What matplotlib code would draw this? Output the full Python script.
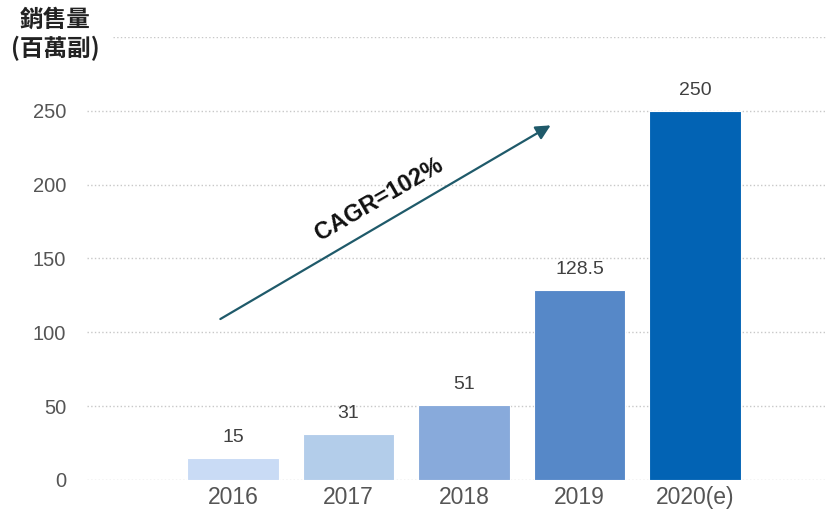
import matplotlib.pyplot as plt

# Datos
years = ['2016', '2017', '2018', '2019', '2020(e)']
sales = [15, 31, 51, 128.5, 250]
value_labels = ['15', '31', '51', '128.5', '250']
bar_colors = ['#c9dbf5', '#b3cdea', '#88aadb', '#5688c8', '#0263b4']

plt.rcParams['font.family'] = ['Liberation Sans', 'Noto Sans CJK TC', 'DejaVu Sans']

fig = plt.figure(figsize=(8.28, 5.16), dpi=100)
ax = fig.add_axes([0.105, 0.0698, 0.895, 0.8589])

x = list(range(len(years)))
ax.bar(x, sales, width=0.79, color=bar_colors, edgecolor='white', linewidth=0.8, zorder=3)

for xi, v, lab in zip(x, sales, value_labels):
    ax.text(xi, v + 8, lab, ha='center', va='bottom', fontsize=14, color='#404040')

ax.set_xlim(-1.264, 5.15)
ax.set_ylim(0, 300)
ax.set_yticks([0, 50, 100, 150, 200, 250])
ax.set_xticks(x)
ax.set_xticklabels(years)

# Lineas de cuadricula punteadas
for yv in [0, 50, 100, 150, 200, 250]:
    ax.axhline(yv, color='#c8c8c8', linestyle=':', linewidth=1, zorder=1)
ax.axhline(300, xmin=0.035, color='#c8c8c8', linestyle=':', linewidth=1, zorder=1)

for s in ax.spines.values():
    s.set_visible(False)
ax.tick_params(axis='both', length=0)
ax.tick_params(axis='y', labelsize=14.5, labelcolor='#555555', pad=15)
ax.tick_params(axis='x', labelsize=16.5, labelcolor='#555555', pad=4)

# Flecha CAGR
ax.annotate('', xy=(2.77, 241), xytext=(-0.13, 108),
            arrowprops=dict(arrowstyle='-|>', color='#1f5a6a', lw=1.6,
                            mutation_scale=22), zorder=4)
ax.text(1.26, 190, 'CAGR=102%', rotation=30, ha='center', va='center',
        fontsize=17, fontweight='bold', color='#111111')

# Titulo eje Y
fig.text(0.067, 0.985, '銷售量\n(百萬副)', ha='center', va='top', fontsize=17,
         fontweight='bold', color='#222222', linespacing=1.2,
         family=['Noto Sans CJK TC', 'DejaVu Sans'])

fig.savefig('out.png', dpi=100)
